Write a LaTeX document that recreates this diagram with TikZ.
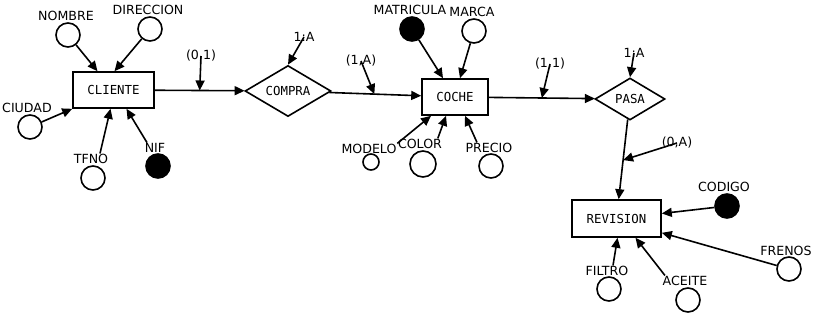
\documentclass[tikz,border=0pt]{standalone}
\usepackage{fontspec}
\setmainfont{DejaVu Sans}
\setmonofont{DejaVu Sans Mono}
\usetikzlibrary{arrows.meta,shapes.geometric}

\begin{document}
\begin{tikzpicture}[x=1pt,y=-1pt,line width=1.6pt,>={Triangle[length=10pt,width=9pt]}]
    \tikzset{entity/.style={draw,rectangle,minimum height=36pt,inner sep=0pt,font=\ttfamily\fontsize{12.4}{12}\selectfont},
      relation/.style={draw,diamond,aspect=1.7,inner sep=0pt,font=\ttfamily\fontsize{12.4}{12}\selectfont},
      attr/.style={draw,circle,minimum size=24pt,inner sep=0pt},
      keyattr/.style={attr,fill=black},
      lbl/.style={inner sep=0pt,font=\fontsize{12.6}{12}\selectfont}}
    \useasboundingbox (0,0) rectangle (817,314);

    % entidades y relaciones
    \node[entity,minimum width=81pt] (cliente) at (113.5,90) {CLIENTE};
    \node[entity,minimum width=66pt] (coche) at (455,97) {COCHE};
    \node[entity,minimum width=89pt,minimum height=37pt] (revision) at (616.5,218.5) {REVISION};
    \node[relation,minimum width=86pt,minimum height=51pt] (compra) at (288,91) {COMPRA};
    \node[relation,minimum width=70pt,minimum height=42pt] (pasa) at (630,99) {PASA};

    \draw[->] (cliente) -- coordinate[pos=.5] (m1) (compra);
    \draw[->] (compra) -- coordinate[pos=.49] (m2) (coche);
    \draw[->] (coche) -- coordinate[pos=.5] (m3) (pasa);
    \draw[->] (pasa) -- coordinate[pos=.51] (m4) (revision);

    % cardinalidades
    \node[lbl] (c01) at (201,56) {(0,1)};
    \node[lbl] (c1a) at (361,61) {(1,A)};
    \node[lbl] (c11) at (550,64) {(1,1)};
    \node[lbl] (c0a) at (677,143) {(0,A)};
    \node[lbl] (tcompra) at (304,37) {1:A};
    \node[lbl] (tpasa) at (634,53) {1:A};
    \draw[->] (c01.center) -- (m1);
    \draw[->] (c1a.center) -- (m2);
    \draw[->] (c11.center) -- (m3);
    \draw[->] (c0a.center) -- (m4);
    \draw[->] (tcompra.center) -- (compra.north);
    \draw[->] (tpasa.center) -- (pasa.north);

    % atributos de CLIENTE
    \node[attr] (nombre) at (68,35) {};
    \node[attr] (direccion) at (150,29) {};
    \node[attr] (ciudad) at (30,127) {};
    \node[attr] (tfno) at (93,178) {};
    \node[keyattr] (nif) at (158,166) {};
    \node[lbl] (nombrel) at (66,16) {NOMBRE};
    \node[lbl] (direccionl) at (148,10) {DIRECCION};
    \node[lbl] (ciudadl) at (27,108) {CIUDAD};
    \node[lbl] (tfnol) at (91,159) {TFNO};
    \node[lbl] (nifl) at (155,148) {NIF};
    \draw[->] (nombre) -- ([xshift=-16pt]cliente.north);
    \draw[->] (direccion) -- ([xshift=1pt]cliente.north);
    \draw[->] (ciudad) -- (cliente.south west);
    \draw[->] ([xshift=9pt]tfnol.north) -- ([xshift=-3pt]cliente.south);
    \draw[->] ([xshift=3pt]nifl.north west) -- ([xshift=13pt]cliente.south);

    % atributos de COCHE
    \node[keyattr] (matricula) at (412,29) {};
    \node[attr] (marca) at (474,31) {};
    \node[attr,minimum size=16pt] (modelo) at (371,162) {};
    \node[attr,minimum size=26pt] (color) at (423,164) {};
    \node[attr] (precio) at (491,166) {};
    \node[lbl] (matriculal) at (410,10) {MATRICULA};
    \node[lbl] (marcal) at (472,12) {MARCA};
    \node[lbl] (modelol) at (369,149) {MODELO};
    \node[lbl] (colorl) at (420,144) {COLOR};
    \node[lbl] (preciol) at (489,148) {PRECIO};
    \draw[->] (matricula) -- ([xshift=-12pt]coche.north);
    \draw[->] (marca) -- ([xshift=5pt]coche.north);
    \draw[->] (modelol.north east) -- ([xshift=-24pt]coche.south);
    \draw[->] ([xshift=-5pt]colorl.north east) -- ([xshift=-9pt]coche.south);
    \draw[->] ([xshift=-12pt]preciol.north) -- ([xshift=10pt]coche.south);

    % atributos de REVISION
    \node[keyattr] (codigo) at (727,206) {};
    \node[attr] (frenos) at (789,269) {};
    \node[attr] (filtro) at (609,289) {};
    \node[attr] (aceite) at (688,300) {};
    \node[lbl] (codigol) at (724,187) {CODIGO};
    \node[lbl] (frenosl) at (786,251) {FRENOS};
    \node[lbl] (filtrol) at (607,271) {FILTRO};
    \node[lbl] (aceitel) at (685,281) {ACEITE};
    \draw[->] (codigo) -- ([yshift=5pt]revision.east);
    \draw[->] (frenos) -- ([yshift=5pt]revision.south east);
    \draw[->] ([xshift=6pt]filtrol.north) -- ([xshift=1pt]revision.south);
    \draw[->] ([xshift=3pt]aceitel.north west) -- ([xshift=19pt]revision.south);
\end{tikzpicture}
\end{document}
